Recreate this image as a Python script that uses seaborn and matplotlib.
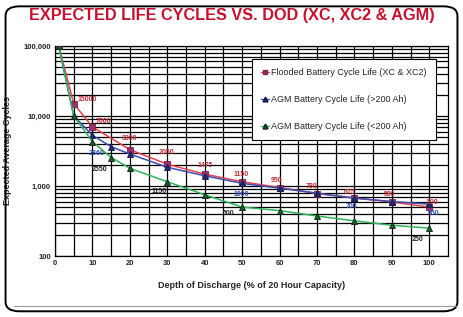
import numpy as np
import pandas as pd
import seaborn as sns
import matplotlib.pyplot as plt
from matplotlib.lines import Line2D
from matplotlib.patches import FancyBboxPatch

# values
dod_flooded = [1, 5, 10, 20, 30, 40, 50, 60, 70, 80, 90, 100]
cycles_flooded = [100000, 15000, 7000, 3300, 2050, 1475, 1150, 950, 780, 675, 590, 500]

dod_agm_big = [1, 5, 10, 15, 20, 30, 40, 50, 60, 70, 80, 90, 100]
cycles_agm_big = [100000, 10000, 5300, 3640, 2860, 1850, 1400, 1090, 930, 790, 670, 600, 550]

dod_agm_small = [1, 5, 10, 15, 20, 30, 40, 50, 60, 70, 80, 90, 100]
cycles_agm_small = [100000, 10000, 4300, 2550, 1790, 1150, 750, 500, 445, 373, 318, 275, 250]

series_names = ["Flooded Battery Cycle Life (XC & XC2)",
                "AGM Battery Cycle Life (>200 Ah)",
                "AGM Battery Cycle Life (<200 Ah)"]

# point labels: (dod, cycles, text, offset)
labels_flooded = [(5, 15000, "15000", (3, 2)), (10, 7000, "7000", (2, 3)),
                  (20, 3300, "3300", (-6, 7)), (30, 2050, "2050", (-6, 7)),
                  (40, 1475, "1475", (-5, 5)), (50, 1150, "1150", (-6, 4)),
                  (60, 950, "950", (-6, 4)), (70, 780, "780", (-8, 4)),
                  (80, 675, "675", (-8, 3)), (90, 590, "590", (-6, 4)),
                  (100, 500, "500", (-2, 2))]
labels_agm_big = [(15, 3640, "2860", (-16, -6)), (50, 1090, "1000", (-6, -9)),
                  (80, 670, "700", (-6, -7)), (100, 550, "550", (-1, -8))]
labels_agm_small = [(15, 2550, "2550", (-14, -10)), (30, 1150, "1150", (-11, -8)),
                    (50, 500, "500", (-14, -6)), (100, 250, "250", (-13, -9))]

sns.set_style("white")
plt.rcParams['font.family'] = ['Liberation Sans', 'DejaVu Sans']

fig = plt.figure(figsize=(4.63, 3.17), dpi=100)
ax = fig.add_axes([0.1188, 0.1924, 0.8488, 0.6626])

styles = [
    (dod_flooded, cycles_flooded, "#e8414a", "s", "#9c2f6e", "#7a2050"),
    (dod_agm_big, cycles_agm_big, "#3a4fb0", "^", "#1f2a70", "#101840"),
    (dod_agm_small, cycles_agm_small, "#2fb35c", "^", "#1f5c2a", "#0a2010"),
]
handles = []
for (xs, ys, lc, mk, mfc, mec), name in zip(styles, series_names):
    df = pd.DataFrame({"dod": xs, "cycles": ys})
    sns.lineplot(data=df, x="dod", y="cycles", ax=ax, color=lc, lw=1.1,
                 marker=mk, markersize=4, markerfacecolor=mfc,
                 markeredgecolor=mec, markeredgewidth=0.6, zorder=3)
    handles.append(Line2D([], [], color=lc, lw=1, marker=mk, markersize=3.5,
                          markerfacecolor=mfc, markeredgecolor=mec, label=name))

ax.set_yscale("log")
ax.set_ylim(100, 100000)
ax.set_xlim(0, 105)
ax.set_xticks(range(0, 101, 10))
ax.set_xticks(range(5, 105, 5), minor=True)
ax.set_yticks([100, 1000, 10000, 100000])
ax.set_yticklabels(["100", "1,000", "10,000", "100,000"])
ax.grid(True, which="major", color="black", lw=0.9)
ax.grid(True, which="minor", color="black", lw=0.9)
ax.tick_params(axis="both", which="both", labelsize=5.5, length=0, pad=3)
for t in ax.get_xticklabels() + ax.get_yticklabels():
    t.set_fontweight("bold")
for s in ax.spines.values():
    s.set_color("black")
    s.set_linewidth(0.9)

ax.set_xlabel("Depth of Discharge (% of 20 Hour Capacity)", fontsize=6.5,
              fontweight="bold", labelpad=10)
ax.set_ylabel("Expected Average Cycles", fontsize=6.5, fontweight="bold",
              labelpad=8)

for group, col in [(labels_flooded, "#c0303a"), (labels_agm_big, "#3a4fb0"),
                   (labels_agm_small, "#222222")]:
    for x, y, txt, off in group:
        ax.annotate(txt, (x, y), xytext=off, textcoords="offset points",
                    fontsize=5, fontweight="bold", color=col, zorder=4)

leg = ax.legend(handles=handles, loc="upper left", bbox_to_anchor=(0.49, 0.96),
                fontsize=6.5, frameon=True, fancybox=False, edgecolor="black",
                framealpha=1, labelspacing=2.0, handlelength=0.9,
                handletextpad=0.2, borderpad=1.0)
leg.get_frame().set_linewidth(0.8)
leg.set_zorder(5)

fig.text(0.5, 0.952, "EXPECTED LIFE CYCLES VS. DOD (XC, XC2 & AGM)",
         ha="center", va="center", fontsize=11.7, fontweight="heavy",
         color="#c8102e")

# rounded frame around the whole chart
frame = FancyBboxPatch((0.012, 0.018), 0.976, 0.962,
                       boxstyle="round,pad=0,rounding_size=0.03",
                       transform=fig.transFigure, fill=False,
                       edgecolor="black", lw=1.4, zorder=0)
fig.patches.append(frame)
fig.add_artist(Line2D([0.03, 0.985], [0.035, 0.035], color="#999999", lw=0.8,
                      transform=fig.transFigure))

fig.savefig("out.png", dpi=100)
